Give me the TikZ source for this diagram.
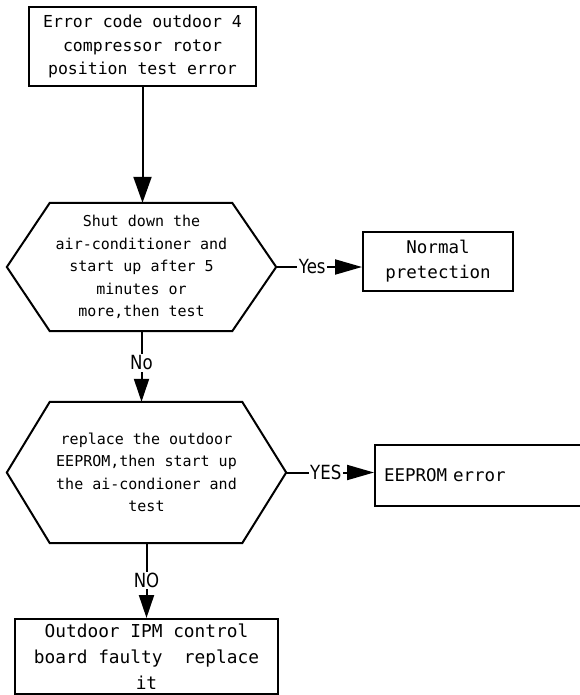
\documentclass[tikz,border=0pt]{standalone}
\usepackage{fontspec}
\newfontfamily\boxfont{DejaVu Sans Mono}
\newfontfamily\tagfont{DejaVu Sans}[FakeStretch=0.85]
\usetikzlibrary{arrows.meta, calc}

\tikzset{
  outline/.style={line width=2pt},
  boxnode/.style={draw, line width=2pt, align=center, inner sep=0pt},
  hexnode/.style={align=center, inner sep=0pt, font={\boxfont\fontsize{15pt}{22.5pt}\selectfont}},
  flow/.style={line width=2pt, -{Triangle[length=23pt,width=15pt]}},
  tag/.style={fill=white, inner sep=1.5pt, font={\tagfont\fontsize{19.5pt}{20pt}\selectfont}}
}
% hexagon outline round a node: name, left cut, right cut
\newcommand{\hexframe}[3]{%
  \draw[outline] (#1.west) -- ($(#1.north west)+(#2,0)$) -- ($(#1.north east)+(-#3,0)$)
    -- (#1.east) -- ($(#1.south east)+(-#3,0)$) -- ($(#1.south west)+(#2,0)$) -- cycle;}

\begin{document}
\begin{tikzpicture}[x=1pt, y=-1pt]
  \useasboundingbox (0,0) rectangle (580,695);
  \node[boxnode, minimum width=227, minimum height=79, font={\boxfont\fontsize{16.5pt}{23.5pt}\selectfont}] (err) at (142.5,46.5)
    {Error code outdoor 4\\compressor rotor\\position test error};
  \node[hexnode, minimum width=269, minimum height=128] (chk1) at (141.5,267)
    {Shut down the\\air-conditioner and\\start up after 5\\minutes or\\more,then test};
  \hexframe{chk1}{43}{44}
  \node[boxnode, minimum width=150, minimum height=59, font={\boxfont\fontsize{17.5pt}{25pt}\selectfont}] (norm) at (438,261.5)
    {Normal\\pretection};
  \node[hexnode, minimum width=279, minimum height=141] (chk2) at (146.5,472.5)
    {replace the outdoor\\EEPROM,then start up\\the ai-condioner and\\test};
  \hexframe{chk2}{43}{44}
  \node[boxnode, anchor=west, text width=200pt, inner sep=9pt, align=left, minimum height=61, font={\boxfont\fontsize{17.5pt}{25pt}\selectfont}] (eep) at (374,475.5)
    {EEPROM error};
  \node[boxnode, minimum width=263, minimum height=75, font={\boxfont\fontsize{17.8pt}{26pt}\selectfont}] (ipm) at (146.5,656.5)
    {Outdoor IPM control\\board faulty\ \ replace\\it};

  \draw[flow, -{Triangle[length=26pt,width=18pt]}] (err.south) -- (err.south |- chk1.north);
  \draw[flow, -{Triangle[length=27pt,width=15pt]}] (chk1.east) -- node[tag, pos=0.42] {Yes} (chk1.east -| norm.west);
  \draw[flow] (chk1.south) -- node[tag, pos=0.45] {No} (chk1.south |- chk2.north);
  \draw[flow, -{Triangle[length=27pt,width=15pt]}] (chk2.east) -- node[tag, pos=0.45] {YES} (chk2.east -| eep.west);
  \draw[flow] (chk2.south) -- node[tag, pos=0.5] {NO} (ipm.north);
\end{tikzpicture}
\end{document}
